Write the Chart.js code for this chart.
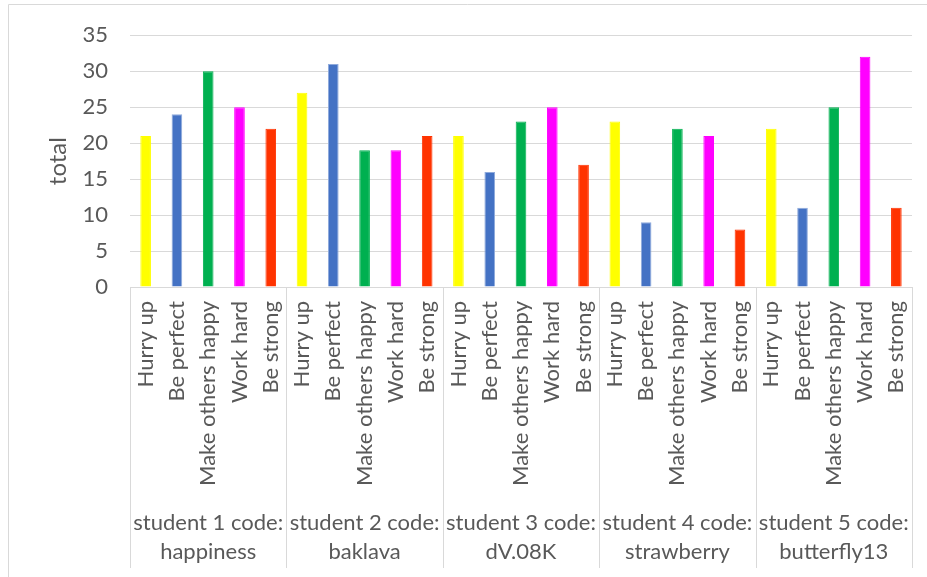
<!DOCTYPE html>
<html>
<head>
<meta charset="utf-8">
<script src="https://cdn.jsdelivr.net/npm/chart.js@4/dist/chart.umd.min.js"></script>
<style>
  html, body { margin: 0; padding: 0; background: #ffffff; }
  #wrap { width: 927px; height: 577px; position: relative; }
</style>
</head>
<body>
<div id="wrap"><canvas id="c" width="927" height="577"></canvas></div>
<script>
// ---- data ----
const traits = ['Hurry up', 'Be perfect', 'Make others happy', 'Work hard', 'Be strong'];
const groupLine1 = ['student 1 code:', 'student 2 code:', 'student 3 code:', 'student 4 code:', 'student 5 code:'];
const groupLine2 = ['happiness', 'baklava', 'dV.08K', 'strawberry', 'butterfly13'];
const student1 = [21, 24, 30, 25, 22];
const student2 = [27, 31, 19, 19, 21];
const student3 = [21, 16, 23, 25, 17];
const student4 = [23, 9, 22, 21, 8];
const student5 = [22, 11, 25, 32, 11];
const yTicks = [0, 5, 10, 15, 20, 25, 30, 35];
const traitColors = ['#FFFF00', '#4472C4', '#00B050', '#FF00FF', '#FF3300'];

// ---- build ----
const allStudents = [student1, student2, student3, student4, student5];
const labels = [];
const values = [];
const colors = [];
const borders = [];
allStudents.forEach((s, g) => {
  s.forEach((v, i) => {
    labels.push(traits[i] + ' | ' + groupLine1[g]);
    values.push(v);
    colors.push(traitColors[i]);
    borders.push(i === 1 ? '#8FAADC' : traitColors[i]);
  });
});

const FONT = 'Lato, "Open Sans", sans-serif';
const TXT = '#595959';
const GRID = '#d9d9d9';

const multiLevelAxis = {
  id: 'multiLevelAxis',
  beforeDraw(chart) {
    const ctx = chart.ctx;
    ctx.save();
    ctx.strokeStyle = GRID;
    ctx.lineWidth = 1;
    ctx.beginPath();
    ctx.moveTo(8.5, 577);
    ctx.lineTo(8.5, 4.5);
    ctx.lineTo(927, 4.5);
    ctx.stroke();
    ctx.restore();
  },
  afterDraw(chart) {
    const ctx = chart.ctx;
    const xs = chart.scales.x;
    const area = chart.chartArea;
    const axisY = area.bottom;
    const bottomY = 568;
    const n = labels.length;
    const per = traits.length;
    ctx.save();
    // separators
    ctx.strokeStyle = GRID;
    ctx.lineWidth = 1;
    const boundaries = [];
    for (let g = 0; g <= groupLine1.length; g++) {
      let bx;
      if (g === 0) bx = area.left;
      else if (g === groupLine1.length) bx = area.right;
      else bx = (xs.getPixelForValue(g * per - 1) + xs.getPixelForValue(g * per)) / 2;
      boundaries.push(bx);
      const px = Math.round(bx) + 0.5;
      ctx.beginPath();
      ctx.moveTo(px, axisY);
      ctx.lineTo(px, bottomY);
      ctx.stroke();
    }
    // rotated trait labels
    ctx.fillStyle = TXT;
    ctx.font = '22px ' + FONT;
    for (let i = 0; i < n; i++) {
      const x = xs.getPixelForValue(i);
      ctx.save();
      ctx.translate(x, axisY + 14);
      ctx.rotate(-Math.PI / 2);
      ctx.textAlign = 'right';
      ctx.textBaseline = 'middle';
      ctx.fillText(traits[i % per], 0, 0);
      ctx.restore();
    }
    // group labels
    ctx.textAlign = 'center';
    ctx.textBaseline = 'middle';
    for (let g = 0; g < groupLine1.length; g++) {
      const cx = (boundaries[g] + boundaries[g + 1]) / 2;
      ctx.fillText(groupLine1[g], cx, 523);
      ctx.fillText(groupLine2[g], cx, 552);
    }
    ctx.restore();
  }
};

new Chart(document.getElementById('c'), {
  type: 'bar',
  data: {
    labels: labels,
    datasets: [{
      data: values,
      backgroundColor: colors,
      borderColor: borders,
      borderWidth: 1,
      barPercentage: 0.34,
      categoryPercentage: 1.0
    }]
  },
  options: {
    responsive: false,
    animation: false,
    devicePixelRatio: 1,
    layout: { padding: { top: 33, right: 15, bottom: 0, left: 0 } },
    plugins: {
      legend: { display: false },
      tooltip: { enabled: false },
      title: { display: false }
    },
    scales: {
      x: {
        grid: { display: false },
        border: { display: true, color: GRID, width: 1 },
        ticks: { display: false },
        afterFit(scale) { scale.height = 290; }
      },
      y: {
        min: 0,
        max: 35,
        afterBuildTicks(scale) { scale.ticks = yTicks.map(v => ({ value: v })); },
        grid: { color: GRID, lineWidth: 1, drawTicks: false },
        border: { display: false },
        ticks: {
          color: TXT,
          font: { family: FONT, size: 22 },
          padding: 22
        },
        title: {
          display: true,
          text: 'total',
          color: TXT,
          font: { family: FONT, size: 24 },
          padding: { top: 44, bottom: 0 }
        },
        afterFit(scale) { scale.width = 130; }
      }
    }
  },
  plugins: [multiLevelAxis]
});
</script>
</body>
</html>
